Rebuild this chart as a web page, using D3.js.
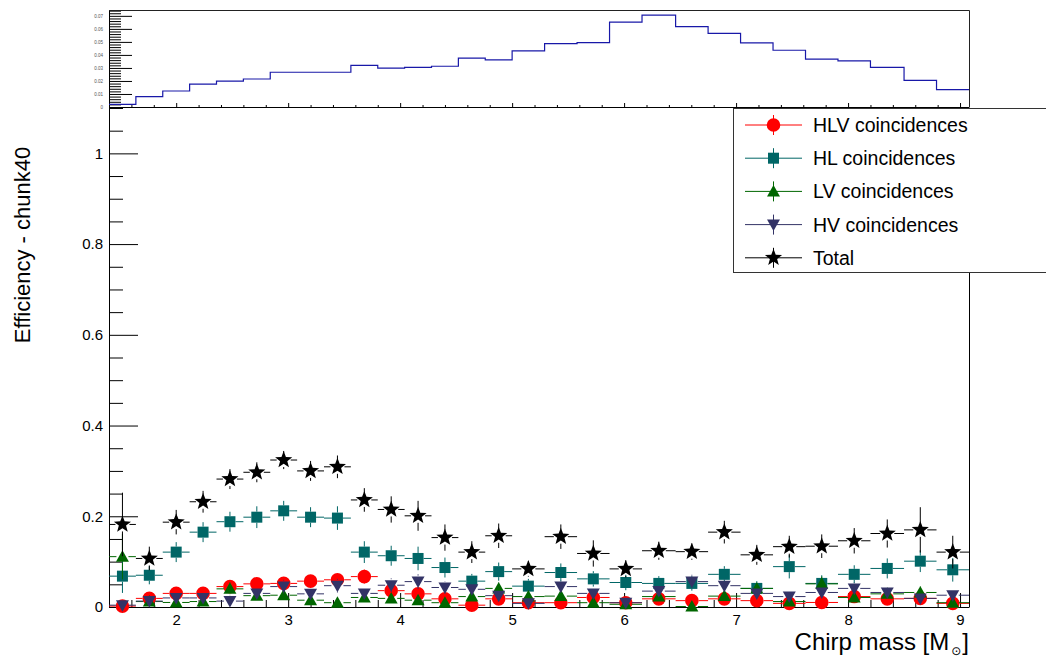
<!DOCTYPE html>
<html>
<head>
<meta charset="utf-8">
<script src="https://cdn.jsdelivr.net/npm/d3@7"></script>
<style>
  html, body { margin: 0; padding: 0; background: #fff; }
  svg { display: block; font-family: "Liberation Sans", Arial, Helvetica, sans-serif; }
</style>
</head>
<body>
<svg id="chart" width="1046" height="659"></svg>
<script>
// chirp mass bins (0.24 wide up to 5, then ~0.29 wide)
const binEdges = [1.4, 1.64, 1.88, 2.12, 2.36, 2.6, 2.84, 3.08, 3.32, 3.56, 3.8, 4.04, 4.28, 4.52, 4.76,
                  5.0, 5.29, 5.58, 5.87, 6.16, 6.46, 6.75, 7.04, 7.33, 7.62, 7.91, 8.2, 8.5, 8.79, 9.08];

const hlvEff = [0.002, 0.019, 0.030, 0.030, 0.045, 0.051, 0.052, 0.057, 0.060, 0.067, 0.036, 0.029, 0.018, 0.004, 0.018,
                0.0095, 0.0095, 0.021, 0.0095, 0.018, 0.014, 0.018, 0.014, 0.008, 0.010, 0.023, 0.018, 0.019, 0.008];
const hlvErr = [0.005, 0.010, 0.011, 0.011, 0.012, 0.013, 0.013, 0.014, 0.015, 0.016, 0.012, 0.011, 0.009, 0.004, 0.009,
                0.007, 0.007, 0.010, 0.007, 0.009, 0.008, 0.009, 0.008, 0.006, 0.007, 0.011, 0.010, 0.011, 0.007];

const hlEff = [0.068, 0.070, 0.121, 0.165, 0.188, 0.198, 0.212, 0.198, 0.196, 0.121, 0.113, 0.107, 0.087, 0.057, 0.078,
               0.046, 0.076, 0.062, 0.054, 0.052, 0.052, 0.072, 0.041, 0.089, 0.052, 0.072, 0.085, 0.101, 0.082];
const hlErr = [0.037, 0.020, 0.022, 0.022, 0.022, 0.024, 0.022, 0.022, 0.026, 0.024, 0.022, 0.026, 0.022, 0.016, 0.020,
               0.016, 0.020, 0.017, 0.017, 0.016, 0.016, 0.018, 0.016, 0.026, 0.018, 0.020, 0.022, 0.024, 0.026];

const lvEff = [0.111, 0.012, 0.010, 0.012, 0.040, 0.025, 0.026, 0.015, 0.0095, 0.021, 0.019, 0.015, 0.0095, 0.023, 0.041,
               0.023, 0.024, 0.0095, 0.006, 0.023, 0.001, 0.024, 0.041, 0.012, 0.051, 0.021, 0.029, 0.032, 0.0095];
const lvErr = [0.050, 0.008, 0.007, 0.008, 0.014, 0.011, 0.011, 0.009, 0.007, 0.010, 0.010, 0.009, 0.007, 0.010, 0.014,
               0.010, 0.010, 0.007, 0.005, 0.010, 0.002, 0.010, 0.013, 0.008, 0.016, 0.010, 0.012, 0.014, 0.008];

const hvEff = [0.004, 0.013, 0.020, 0.020, 0.013, 0.030, 0.045, 0.029, 0.047, 0.030, 0.048, 0.056, 0.043, 0.039, 0.025,
               0.008, 0.045, 0.030, 0.0095, 0.035, 0.056, 0.047, 0.030, 0.023, 0.032, 0.041, 0.032, 0.019, 0.026];
const hvErr = [0.004, 0.008, 0.010, 0.010, 0.008, 0.012, 0.015, 0.012, 0.015, 0.012, 0.015, 0.016, 0.014, 0.013, 0.011,
               0.006, 0.014, 0.011, 0.007, 0.012, 0.015, 0.014, 0.011, 0.010, 0.012, 0.014, 0.012, 0.010, 0.012];

const totalEff = [0.182, 0.107, 0.187, 0.232, 0.282, 0.297, 0.324, 0.300, 0.309, 0.236, 0.215, 0.201, 0.153, 0.121, 0.157,
                  0.084, 0.155, 0.118, 0.084, 0.124, 0.122, 0.165, 0.115, 0.133, 0.134, 0.146, 0.162, 0.170, 0.121];
const totalErr = [0.070, 0.026, 0.027, 0.024, 0.022, 0.022, 0.020, 0.022, 0.025, 0.026, 0.029, 0.033, 0.029, 0.024, 0.027,
                  0.017, 0.027, 0.029, 0.019, 0.020, 0.018, 0.025, 0.022, 0.024, 0.026, 0.028, 0.031, 0.050, 0.036];

// injected chirp mass distribution (upper pad)
const injHist = [0.002, 0.008, 0.0123, 0.0175, 0.0198, 0.0215, 0.0267, 0.0267, 0.0267, 0.032, 0.0298, 0.0305, 0.0313, 0.0375, 0.0362,
                 0.0431, 0.0487, 0.0495, 0.0652, 0.0705, 0.0618, 0.0565, 0.0492, 0.0436, 0.0367, 0.0354, 0.0305, 0.0205, 0.0133];

const xTicks = [2, 3, 4, 5, 6, 7, 8, 9];
const yTicks = [0, 0.2, 0.4, 0.6, 0.8, 1];
const topYTicks = [0, 0.01, 0.02, 0.03, 0.04, 0.05, 0.06, 0.07];

const series = [
  { name: "HLV coincidences", vals: hlvEff, errs: hlvErr, color: "#ff0000", marker: "circle" },
  { name: "HL coincidences", vals: hlEff, errs: hlErr, color: "#006666", marker: "square" },
  { name: "LV coincidences", vals: lvEff, errs: lvErr, color: "#006600", marker: "triUp" },
  { name: "HV coincidences", vals: hvEff, errs: hvErr, color: "#333366", marker: "triDown" },
  { name: "Total", vals: totalEff, errs: totalErr, color: "#000000", marker: "star" }
];

const svg = d3.select("#chart");
const frameL = 109, frameR = 969, frameB = 607, frameT = 108;
const padTop = 10, padBottom = 107;

const x = d3.scaleLinear().domain([binEdges[0], binEdges[binEdges.length - 1]]).range([frameL, frameR]);
const y = d3.scaleLinear().domain([0, 1.1]).range([frameB, frameT]);
const yTop = d3.scaleLinear().domain([0, 0.0745]).range([padBottom, padTop]);

function markerPath(type) {
  if (type === "circle") return d3.arc()({ innerRadius: 0, outerRadius: 6.8, startAngle: 0, endAngle: 2 * Math.PI });
  if (type === "square") return "M-5.5,-5.5H5.5V5.5H-5.5Z";
  if (type === "triUp") return "M0,-6.5L6.5,5L-6.5,5Z";
  if (type === "triDown") return "M0,6.5L6.5,-5L-6.5,-5Z";
  // full star
  const pts = [];
  for (let k = 0; k < 10; k++) {
    const a = -Math.PI / 2 + k * Math.PI / 5;
    const r = k % 2 === 0 ? 9 : 3.8;
    pts.push([r * Math.cos(a), r * Math.sin(a)]);
  }
  return "M" + pts.map(p => p.join(",")).join("L") + "Z";
}
const gapSize = { circle: 6.8, square: 5.5, triUp: 6, triDown: 6, star: 7 };

// ---------- main pad ----------
const main = svg.append("g");

const xMinor = d3.range(14, 91, 2).map(d => d / 10).filter(d => d % 1 !== 0);
main.append("g")
  .attr("transform", "translate(0," + frameB + ")")
  .call(d3.axisBottom(x).tickValues(xMinor).tickSize(-7).tickSizeOuter(0).tickFormat(""))
  .call(g => g.select(".domain").remove());
main.append("g")
  .attr("transform", "translate(0," + frameB + ")")
  .call(d3.axisBottom(x).tickValues(xTicks).tickSize(-14).tickSizeOuter(0).tickPadding(7).tickFormat(d3.format("d")))
  .call(g => g.selectAll("text").attr("font-size", 15).attr("font-family", "Liberation Sans, Arial, sans-serif"));

const yMinor = d3.range(0, 23).map(d => d * 0.05).filter(d => Math.abs(d * 5 - Math.round(d * 5)) > 1e-6);
main.append("g")
  .attr("transform", "translate(" + frameL + ",0)")
  .call(d3.axisLeft(y).tickValues(yMinor).tickSize(-14).tickSizeOuter(0).tickFormat(""))
  .call(g => g.select(".domain").remove());
main.append("g")
  .attr("transform", "translate(" + frameL + ",0)")
  .call(d3.axisLeft(y).tickValues(yTicks).tickSize(-29).tickSizeOuter(0).tickPadding(6)
    .tickFormat(d => (d === 0 || d === 1) ? d3.format("d")(d) : d3.format(".1f")(d)))
  .call(g => g.selectAll("text").attr("font-size", 15).attr("font-family", "Liberation Sans, Arial, sans-serif"));

main.append("line")
  .attr("x1", frameR + 0.5).attr("x2", frameR + 0.5)
  .attr("y1", frameT).attr("y2", frameB)
  .attr("stroke", "#000");

// error bars (with a gap round the marker) and markers
series.forEach(s => {
  const g = main.append("g");
  const gap = gapSize[s.marker];
  s.vals.forEach((v, i) => {
    const lo = binEdges[i], hi = binEdges[i + 1];
    const cx = x((lo + hi) / 2), cy = y(v);
    const segs = [
      [x(lo), cy, cx - gap, cy],
      [cx + gap, cy, x(hi), cy],
      [cx, y(v + s.errs[i]), cx, cy - gap],
      [cx, cy + gap, cx, Math.min(y(v - s.errs[i]), frameB)]
    ];
    segs.forEach(sg => {
      if ((sg[0] === sg[2] && sg[3] <= sg[1]) || (sg[1] === sg[3] && sg[2] <= sg[0])) return;
      g.append("line")
        .attr("x1", sg[0]).attr("y1", sg[1]).attr("x2", sg[2]).attr("y2", sg[3])
        .attr("stroke", s.color).attr("stroke-width", 1);
    });
  });
  g.selectAll("path.mk")
    .data(s.vals)
    .join("path")
    .attr("class", "mk")
    .attr("d", markerPath(s.marker))
    .attr("transform", (v, i) => "translate(" + x((binEdges[i] + binEdges[i + 1]) / 2) + "," + y(v) + ")")
    .attr("fill", s.color);
});

// axis titles
svg.append("text")
  .attr("transform", "translate(30,245) rotate(-90)")
  .attr("text-anchor", "middle")
  .attr("font-size", 22)
  .text("Efficiency - chunk40");

const xt = svg.append("text")
  .attr("x", frameR)
  .attr("y", 650)
  .attr("text-anchor", "end")
  .attr("font-size", 24);
xt.append("tspan").text("Chirp mass [M");
xt.append("tspan").attr("dy", 5).attr("dx", 2).attr("font-size", 12).attr("font-family", "DejaVu Sans").text("\u2299");
xt.append("tspan").attr("dy", -5).attr("dx", 1).text("]");

// legend
const legend = svg.append("g");
legend.append("rect")
  .attr("x", 733.5).attr("y", 108.5)
  .attr("width", 330).attr("height", 164)
  .attr("fill", "#fff").attr("stroke", "#333");
series.forEach((s, i) => {
  const ly = 125 + i * 33.2;
  legend.append("line").attr("x1", 745).attr("x2", 802).attr("y1", ly).attr("y2", ly).attr("stroke", s.color);
  legend.append("line").attr("x1", 773.5).attr("x2", 773.5).attr("y1", ly - 10).attr("y2", ly + 10).attr("stroke", s.color);
  legend.append("path").attr("d", markerPath(s.marker))
    .attr("transform", "translate(773.5," + ly + ")").attr("fill", s.color);
  legend.append("text")
    .attr("x", 813).attr("y", ly + 7)
    .attr("font-size", 19.5)
    .text(s.name);
});

// ---------- upper pad ----------
const upper = svg.append("g");
upper.append("rect").attr("x", 0).attr("y", 0).attr("width", 1046).attr("height", padBottom).attr("fill", "#fff");

const topMinor = d3.range(0, 38).map(d => d * 0.002).filter(d => Math.abs(d * 100 - Math.round(d * 100)) > 1e-6);
upper.append("g")
  .attr("transform", "translate(" + frameL + ",0)")
  .call(d3.axisLeft(yTop).tickValues(topMinor).tickSize(-12).tickSizeOuter(0).tickFormat(""))
  .call(g => g.select(".domain").remove());
upper.append("g")
  .attr("transform", "translate(" + frameL + ",0)")
  .call(d3.axisLeft(yTop).tickValues(topYTicks).tickSize(-23).tickSizeOuter(0).tickPadding(6)
    .tickFormat(d => d === 0 ? "0" : d3.format(".2f")(d)))
  .call(g => g.selectAll("text").attr("font-size", 4.5).attr("fill", "#555"));

upper.append("g")
  .attr("transform", "translate(0," + padBottom + ")")
  .call(d3.axisBottom(x).tickValues(xMinor).tickSize(-2).tickSizeOuter(0).tickFormat(""))
  .call(g => g.select(".domain").remove());
upper.append("g")
  .attr("transform", "translate(0," + padBottom + ")")
  .call(d3.axisBottom(x).tickValues(xTicks).tickSize(-4).tickSizeOuter(0).tickFormat(""));

upper.append("path")
  .attr("d", "M" + frameL + "," + (padTop + 0.5) + "H" + (frameR + 0.5) + "V" + padBottom)
  .attr("fill", "none").attr("stroke", "#222");

let hp = "M" + x(binEdges[0]) + "," + yTop(injHist[0]);
injHist.forEach((v, i) => {
  if (i > 0) hp += "V" + yTop(v);
  hp += "H" + x(binEdges[i + 1]);
});
upper.append("path")
  .attr("d", hp)
  .attr("fill", "none")
  .attr("stroke", "#1818a8")
  .attr("stroke-width", 1.2);
</script>
</body>
</html>
